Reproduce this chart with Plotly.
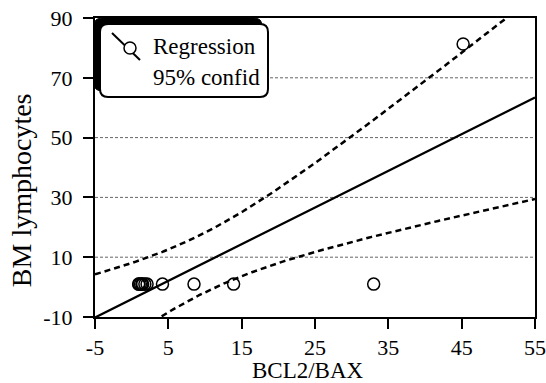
import numpy as np
import plotly.graph_objects as go

# ---- data ----
bcl2_bax = [0.95, 1.0, 1.2, 1.4, 1.5, 1.8, 2.1, 4.2, 8.5, 13.9, 33.0, 45.2]
bm_lymphocytes = [1, 1, 1, 1, 1, 1, 1, 1, 1, 1, 1, 81.3]
x_ticks = [-5, 5, 15, 25, 35, 45, 55]
y_ticks = [-10, 10, 30, 50, 70, 90]
grid_values = [10, 30, 50, 70]
legend_labels = ["Regression", "95% confid"]
x_title = "BCL2/BAX"
y_title = "BM lymphocytes"

# Student t 97.5% quantiles
T_975 = {6: 2.447, 7: 2.365, 8: 2.306, 9: 2.262, 10: 2.228, 11: 2.201, 12: 2.179}

# ---- regression with 95% confidence band ----
x = np.array(bcl2_bax, float)
y = np.array(bm_lymphocytes, float)
n = len(x)
slope, intercept = np.polyfit(x, y, 1)
resid = y - (intercept + slope * x)
s = np.sqrt(np.sum(resid ** 2) / (n - 2))
xm = x.mean()
sxx = np.sum((x - xm) ** 2)
t = T_975[n - 2]
xs = np.linspace(x_ticks[0], x_ticks[-1], 301)
yhat = intercept + slope * xs
hw = t * s * np.sqrt(1.0 / n + (xs - xm) ** 2 / sxx)

FONT = "Liberation Serif"
fig = go.Figure()
fig.add_trace(go.Scatter(x=xs, y=yhat + hw, mode="lines",
                         line=dict(color="black", width=2.5, dash="6px,4px")))
fig.add_trace(go.Scatter(x=xs, y=yhat - hw, mode="lines",
                         line=dict(color="black", width=2.5, dash="6px,4px")))
fig.add_trace(go.Scatter(x=xs, y=yhat, mode="lines",
                         line=dict(color="black", width=2.3)))
fig.add_trace(go.Scatter(x=bcl2_bax, y=bm_lymphocytes, mode="markers",
                         marker=dict(symbol="circle-open", size=12,
                                     color="black", line=dict(width=1.5))))

for g in grid_values:
    fig.add_shape(type="line", xref="paper", x0=0, x1=1, yref="y", y0=g, y1=g,
                  line=dict(color="#666666", width=1, dash="3px,2px"), layer="below")

# legend box with shadow (pixel-sized, anchored to plot top-left)
def rrect(x0, y0, x1, y1, r):
    # pixel coords, y positive up
    return (f"M{x0+r},{y0} L{x1-r},{y0} Q{x1},{y0} {x1},{y0-r} "
            f"L{x1},{y1+r} Q{x1},{y1} {x1-r},{y1} L{x0+r},{y1} "
            f"Q{x0},{y1} {x0},{y1+r} L{x0},{y0-r} Q{x0},{y0} {x0+r},{y0} Z")

common = dict(type="path", xref="paper", yref="paper", xsizemode="pixel",
              ysizemode="pixel", xanchor=0, yanchor=1)
fig.add_shape(path=rrect(-1, 0, 167, -73, 8), fillcolor="black",
              line=dict(color="black", width=1), **common)
fig.add_shape(path=rrect(5, -6, 173, -79, 8), fillcolor="white",
              line=dict(color="black", width=2), **common)
fig.add_shape(type="line", xref="paper", yref="paper", xsizemode="pixel",
              ysizemode="pixel", xanchor=0, yanchor=1,
              x0=17, y0=-15, x1=45, y1=-42, line=dict(color="black", width=2))
fig.add_shape(type="circle", xref="paper", yref="paper", xsizemode="pixel",
              ysizemode="pixel", xanchor=0, yanchor=1,
              x0=29, y0=-24, x1=41, y1=-36, fillcolor="white",
              line=dict(color="black", width=1.5))

fig.add_annotation(text=legend_labels[0], xref="paper", yref="paper",
                   x=(151 - 95) / 440, y=1 - (46 - 18) / 298.7, xanchor="left",
                   yanchor="middle", showarrow=False,
                   font=dict(family=FONT, size=23, color="black"))
fig.add_annotation(text=legend_labels[1], xref="paper", yref="paper",
                   x=(151 - 95) / 440, y=1 - (77 - 18) / 298.7, xanchor="left",
                   yanchor="middle", showarrow=False,
                   font=dict(family=FONT, size=23, color="black"))

fig.add_annotation(text=x_title, xref="paper", yref="paper",
                   x=(308 - 95) / 440, y=-(370 - 317) / 298.7, xanchor="center",
                   yanchor="middle", showarrow=False,
                   font=dict(family=FONT, size=23, color="black"))
fig.add_annotation(text=y_title, xref="paper", yref="paper",
                   x=(21 - 95) / 440, y=1 - (190 - 18) / 298.7, xanchor="center",
                   yanchor="middle", textangle=-90, showarrow=False,
                   font=dict(family=FONT, size=28, color="black"))

axis_common = dict(showgrid=False, zeroline=False, showline=True, linecolor="black",
                   linewidth=2, mirror=True, ticks="outside", ticklen=10,
                   tickwidth=2, tickcolor="black", automargin=False,
                   tickfont=dict(family=FONT, size=22, color="black"))
fig.update_xaxes(range=[-5, 55], tickvals=x_ticks, ticktext=[str(v) for v in x_ticks],
                 **axis_common)
fig.update_yaxes(range=[-10, 90], tickvals=y_ticks, ticktext=[str(v) for v in y_ticks],
                 ticklabelstandoff=6, **axis_common)

fig.update_layout(width=546, height=383, showlegend=False,
                  margin=dict(l=95, r=11, t=18, b=66),
                  paper_bgcolor="white", plot_bgcolor="white")
fig.write_html("out.html", config={"displayModeBar": False},
               post_script="document.body.style.margin='0';document.body.style.overflow='hidden';")
